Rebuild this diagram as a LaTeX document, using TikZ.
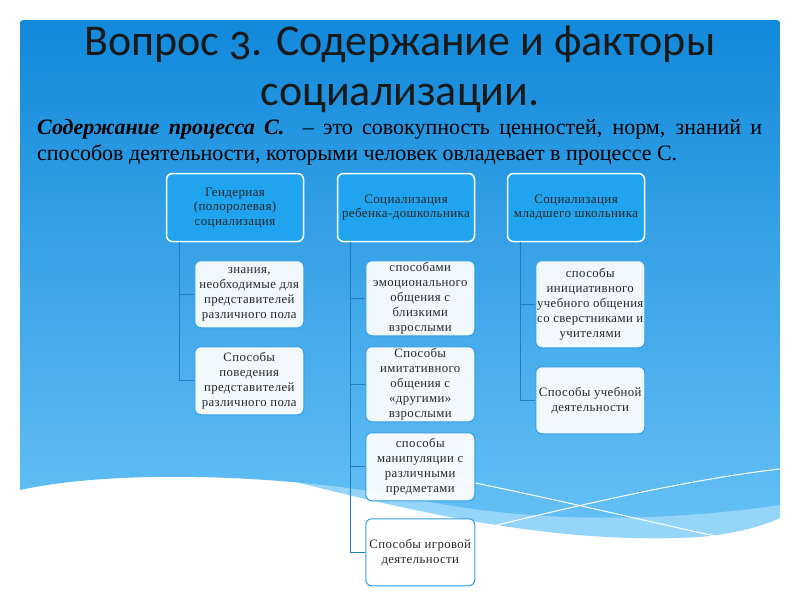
\documentclass[tikz,border=0pt]{standalone}
\usepackage{fontspec}
\setmainfont{Liberation Serif}
\newfontfamily\titlefont[Numbers=OldStyle]{Carlito}
\newfontfamily\boxfont[LetterSpace=3]{Liberation Serif}
\usetikzlibrary{positioning}

\definecolor{skytop}{RGB}{18,137,219}
\definecolor{skybottom}{RGB}{100,192,245}
\definecolor{skyband}{RGB}{150,213,250}
\definecolor{headblue}{RGB}{32,164,240}
\definecolor{linkblue}{RGB}{28,125,196}
\definecolor{boxedge}{RGB}{48,158,232}

\tikzset{
  header/.style={rectangle, rounded corners=6pt, draw=white, line width=1.5pt, fill=headblue,
    minimum width=137pt, minimum height=68pt, align=center, inner sep=1pt,
    font=\boxfont\fontsize{13}{14.5}\selectfont, text=black!85},
  leaf/.style={rectangle, rounded corners=6pt, draw=boxedge, line width=1pt, fill=white,
    fill opacity=0.93, text opacity=1, minimum width=109pt, align=center,
    inner sep=0.5pt, font=\boxfont\fontsize{12.8}{15}\selectfont, text=black!85},
  link/.style={draw=linkblue, line width=1pt},
}

\begin{document}
\begin{tikzpicture}[x=1pt, y=-1pt]
    % Background
    \useasboundingbox (0,0) rectangle (800,600);
    \fill[white] (0,0) rectangle (800,600);
    \fill[skyband] (250,470) .. controls (420,515) and (560,545) .. (700,537)
        .. controls (740,533) and (765,525) .. (780,518) -- (780,440) -- (250,440) -- cycle;
    \shade[top color=skytop, bottom color=skybottom, rounded corners=3pt]
        (20,490) -- (20,20) -- (780,20) [sharp corners] -- (780,505)
        .. controls (640,525) and (520,520) .. (420,500)
        .. controls (300,475) and (120,468) .. (20,490) -- cycle;
    \draw[white, line width=1pt] (420,472) .. controls (540,495) and (640,520) .. (720,537);
    \draw[white, line width=1pt] (493,526) .. controls (600,500) and (700,478) .. (780,469);

    % Title and definition
    \node (title) [align=center, font=\titlefont\fontsize{44}{50}\selectfont, text=black!90]
        at (400,69) {Вопрос 3. Содержание и факторы\\социализации.};
    \node (def) [anchor=north west, inner sep=0pt, text width=725pt, align=justify,
        font=\fontsize{22}{26}\selectfont] at (37,119)
        {\textbf{\textit{Содержание процесса С.}}\ \ – это совокупность ценностей, норм, знаний и\linebreak
        способов деятельности, которыми человек овладевает в процессе С.};

    % Headers
    \node (Gender) [header] at (235,207.5) {Гендерная\\(полоролевая)\\социализация};
    \node (Preschool) [header] at (406,207.5) {Социализация\\ребенка-дошкольника};
    \node (School) [header] at (576,207.5) {Социализация\\младшего школьника};

    % Leaves
    \node (Gknow) [leaf, minimum height=67pt, below=18pt of Gender.south east, anchor=north east]
        {знания,\\необходимые для\\представителей\\различного пола};
    \node (Gbehav) [leaf, minimum height=68pt, below=18pt of Gknow]
        {Способы\\поведения\\представителей\\различного пола};

    \node (Pemo) [leaf, minimum height=75pt, below=18pt of Preschool.south east, anchor=north east]
        {способами\\эмоционального\\общения с\\близкими\\взрослыми};
    \node (Pimit) [leaf, minimum height=75pt, below=10pt of Pemo]
        {Способы\\имитативного\\общения с\\«другими»\\взрослыми};
    \node (Pmanip) [leaf, minimum height=68pt, below=10pt of Pimit]
        {способы\\манипуляции с\\различными\\предметами};
    \node (Pplay) [leaf, minimum height=67pt, below=17pt of Pmanip]
        {Способы игровой\\деятельности};

    \node (Sinit) [leaf, minimum height=87pt, below=18pt of School.south east, anchor=north east]
        {способы\\инициативного\\учебного общения\\со сверстниками и\\учителями};
    \node (Sstudy) [leaf, minimum height=67pt, below=18pt of Sinit]
        {Способы учебной\\деятельности};

    % Links
    \foreach \h/\c in {Gender/Gknow, Gender/Gbehav, Preschool/Pemo, Preschool/Pimit,
        Preschool/Pmanip, Preschool/Pplay, School/Sinit, School/Sstudy}
        \draw[link] ([xshift=14pt]\h.south west) |- (\c.west);
\end{tikzpicture}
\end{document}
